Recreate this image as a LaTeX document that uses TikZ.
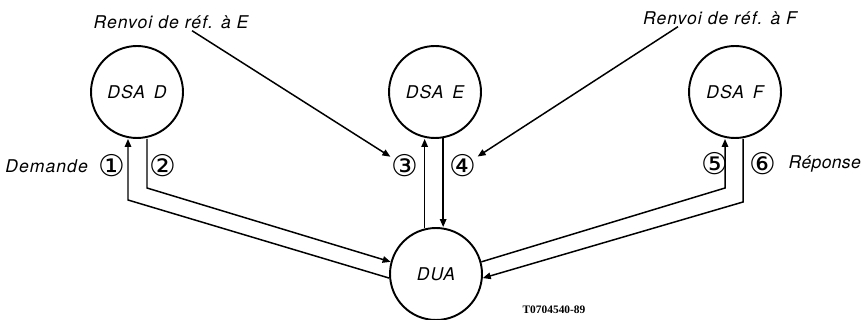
\documentclass[tikz,border=0pt]{standalone}
\usepackage{fontspec}
\setsansfont{TeX Gyre Heros}[LetterSpace=6]
\newfontfamily\circfont{DejaVu Sans}
\newfontfamily\codefont{Liberation Serif}
\usetikzlibrary{arrows.meta,positioning}

\begin{document}
\begin{tikzpicture}[
  x=0.02cm, y=-0.02cm,
  station/.style={circle, draw, line width=1.1pt, minimum size=1.84cm,
                  inner sep=0pt, font=\sffamily\itshape\fontsize{10}{12}\selectfont},
  tag/.style={inner sep=0.5pt, font=\circfont\fontsize{17}{19}\selectfont},
  caption/.style={inner sep=1pt, font=\sffamily\itshape\fontsize{10}{12}\selectfont},
  msg/.style={-{Triangle[length=1.6mm, width=1.3mm]}, line width=0.85pt},
]
  \useasboundingbox (0,0) rectangle (861,320);

  % Agents
  \node[station] (dsaD) at (137,92) {DSA\enspace D};
  \node[station] (dsaE) at (435,92) {DSA\enspace E};
  \node[station] (dsaF) at (735,92) {DSA\enspace F};
  \node[station] (dua)  at (436,274) {DUA};

  % Referral captions
  \node[caption] (refE) at (171,22) {Renvoi de réf. à E};
  \node[caption] (refF) at (720,18) {Renvoi de réf. à F};

  % Step numbers
  \node[tag] (n1) at (112,166) {①};
  \node[tag] (n2) at (163,166) {②};
  \node[tag] (n3) at (405,166) {③};
  \node[tag] (n4) at (463,166) {④};
  \node[tag] (n5) at (715,164) {⑤};
  \node[tag] (n6) at (763,164) {⑥};
  \node[caption, left=0.15cm of n1] (ask) {Demande};
  \node[caption, right=0.18cm of n6,
        font=\sffamily\itshape\fontsize{10}{12}\selectfont\addfontfeature{LetterSpace=2}] (reply) {Réponse};

  % Drawing number
  \node[font=\codefont\bfseries\fontsize{6.5}{8}\selectfont] (code) at (554,310) {T0704540-89};

  % Bends
  \coordinate (kD1) at (128,200);
  \coordinate (kD2) at (147,188);
  \coordinate (kF1) at (725,188);
  \coordinate (kF2) at (743,202);

  % DSA D
  \draw[msg] (dua.185) -- (kD1) -- (kD1 |- dsaD.south);
  \draw[msg] (kD2 |- dsaD.south) -- (kD2) -- (dua.165);

  % DSA E
  \draw[msg] (dua.104) -- (dua.104 |- dsaE.south);
  \draw[msg] (dsaE.280) -- (dsaE.280 |- dua.north);

  % DSA F
  \draw[msg] (dua.15) -- (kF1) -- (kF1 |- dsaF.south);
  \draw[msg] (kF2 |- dsaF.south) -- (kF2) -- (dua.-5);

  % Referrals
  \draw[msg] ([xshift=0.42cm]refE.south) -- (n3);
  \draw[msg] ([xshift=-0.84cm]refF.south) -- (n4);

\end{tikzpicture}
\end{document}
